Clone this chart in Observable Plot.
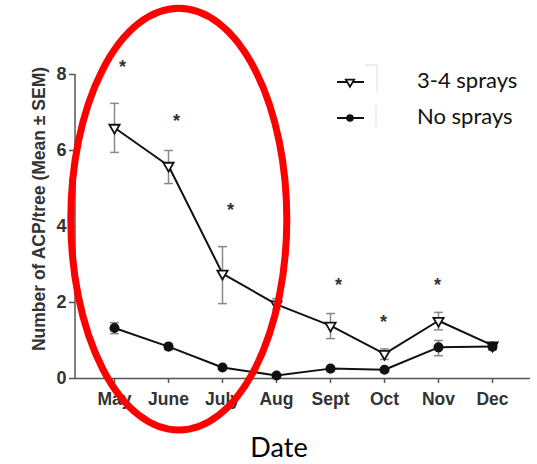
<!DOCTYPE html>
<html><head><meta charset="utf-8">
<script src="https://cdn.jsdelivr.net/npm/d3@7"></script>
<script src="https://cdn.jsdelivr.net/npm/@observablehq/plot@0.6"></script>
<style>body{margin:0;background:#fff;} #chart svg{display:block;}</style>
</head><body><div id="chart"></div>
<script>
const months = ["May","June","July","Aug","Sept","Oct","Nov","Dec"];
const seriesNames = ["3-4 sprays","No sprays"];
const spraysMean = [6.6, 5.6, 2.76, 1.95, 1.39, 0.65, 1.52, 0.87];
const spraysLow  = [5.95, 5.13, 1.97, 1.82, 1.05, 0.5, 1.28, 0.8];
const spraysHigh = [7.24, 6.0, 3.47, 2.1, 1.71, 0.78, 1.74, 0.93];
const noMean = [1.33, 0.84, 0.29, 0.08, 0.26, 0.23, 0.82, 0.84];
const noLow  = [1.18, 0.76, 0.25, 0.05, 0.2, 0.18, 0.6, 0.75];
const noHigh = [1.47, 0.92, 0.33, 0.1, 0.3, 0.28, 1.0, 0.92];
const starMonths = ["May","June","July","Sept","Oct","Nov"];
const starY = [8.33, 6.89, 4.55, 2.58, 1.61, 2.58];
const yTicks = [0, 2, 4, 6, 8];

const sprays = months.map((m,i)=>({month:m, mean:spraysMean[i], lo:spraysLow[i], hi:spraysHigh[i]}));
const none = months.map((m,i)=>({month:m, mean:noMean[i], lo:noLow[i], hi:noHigh[i]}));
const stars = starMonths.map((m,i)=>({month:m, y:starY[i]}));
const capSymbol = {draw(ctx, size){ const w = Math.sqrt(size)/2; ctx.moveTo(-w,0); ctx.lineTo(w,0); }};
const errMarks = (data) => [
  Plot.ruleX(data, {x:"month", y1:"lo", y2:"hi", stroke:"#888", strokeWidth:1.5}),
  Plot.dot(data, {x:"month", y:"lo", symbol:capSymbol, r:5, stroke:"#888", strokeWidth:1.5}),
  Plot.dot(data, {x:"month", y:"hi", symbol:capSymbol, r:5, stroke:"#888", strokeWidth:1.5})
];

const plot = Plot.plot({
  width: 537, height: 464,
  marginLeft: 75, marginRight: 7, marginTop: 74, marginBottom: 86,
  style: {fontFamily: "Liberation Sans, Arial, sans-serif", background: "#fff"},
  x: {type: "point", domain: months, padding: 0.68, axis: null},
  y: {domain: [0, 8], axis: null},
  marks: [
    Plot.axisY({ticks: yTicks, tickSize: 6, tickPadding: 3, fontSize: 18, fontWeight: "bold", fill: "#333", stroke: "#555", strokeWidth: 1.5, label: null}),
    Plot.axisX({tickSize: 5, tickPadding: 9, fontSize: 17.5, fontWeight: "bold", fill: "#333", stroke: "#555", strokeWidth: 1.5, label: null}),
    Plot.ruleY([0], {stroke: "#555", strokeWidth: 1.5}),
    ...errMarks(sprays),
    ...errMarks(none),
    Plot.line(sprays, {x:"month", y:"mean", stroke:"#111", strokeWidth:2}),
    Plot.line(none, {x:"month", y:"mean", stroke:"#111", strokeWidth:2}),
    Plot.dot(sprays, {x:"month", y:"mean", symbol:"triangle", rotate:180, r:3.8, fill:"#fff", stroke:"#111", strokeWidth:1.8}),
    Plot.dot(none, {x:"month", y:"mean", r:4.3, fill:"#111", stroke:"#111"}),
    Plot.text(stars.filter(d=>d.month!=="Oct" && d.month!=="Nov"), {x:"month", y:"y", text:()=>"*", dx:8, dy:5, fontSize:18, fontWeight:"bold", fill:"#333"}),
    Plot.text(stars.filter(d=>d.month==="Oct" || d.month==="Nov"), {x:"month", y:"y", text:()=>"*", dx:-1, dy:5, fontSize:18, fontWeight:"bold", fill:"#333"})
  ]
});
document.getElementById("chart").appendChild(plot);

const svg = d3.select(plot);
const xs = plot.scale("x"), ys = plot.scale("y");
const X = (m)=>xs.apply(m), Y = (v)=>ys.apply(v);
const step = X("June") - X("May");

// y axis line
svg.append("line").attr("x1",75).attr("x2",75).attr("y1",Y(8)).attr("y2",Y(0)).attr("stroke","#555").attr("stroke-width",1.5);

// y label
svg.append("text").attr("transform",`translate(40,209) rotate(-90)`)
  .attr("text-anchor","middle").attr("dominant-baseline","middle")
  .attr("font-family","Liberation Sans, Arial, sans-serif").attr("font-weight","bold").attr("font-size",17.5).attr("fill","#333")
  .text("Number of ACP/tree (Mean ± SEM)");

// x label
svg.append("text").attr("x", 279).attr("y", 450).attr("text-anchor","middle").attr("dominant-baseline","middle")
  .attr("font-family","Lato, sans-serif").attr("font-size",27).attr("fill","#000").text("Date");

// legend
const lg = svg.append("g").attr("font-family","Lato, sans-serif");
[82, 118].forEach((yy,i)=>{
  lg.append("line").attr("x1",337).attr("x2",364).attr("y1",yy).attr("y2",yy).attr("stroke","#111").attr("stroke-width",2);
  if(i===0){
    lg.append("path").attr("d", d3.symbol(d3.symbolTriangle, 30)()).attr("transform",`translate(350,${yy}) rotate(180)`).attr("fill","#fff").attr("stroke","#111").attr("stroke-width",1.8);
  } else {
    lg.append("circle").attr("cx",350).attr("cy",yy).attr("r",3.8).attr("fill","#111");
  }
  lg.append("text").attr("x",417).attr("y",yy).attr("text-anchor","start").attr("dominant-baseline","middle").attr("font-size",22).attr("fill","#111").text(seriesNames[i]);
});
lg.append("line").attr("x1",377).attr("x2",377).attr("y1",65).attr("y2",93).attr("stroke","#ddd");
lg.append("line").attr("x1",365).attr("x2",378).attr("y1",65).attr("y2",65).attr("stroke","#ddd");
lg.append("line").attr("x1",376).attr("x2",376).attr("y1",105).attr("y2",127).attr("stroke","#ddd");

// red annotation ellipse
svg.append("ellipse")
  .attr("cx", X("June") + step*0.2).attr("cy", Y(4.18))
  .attr("rx", step*2).attr("ry", Y(0) - Y(5.55))
  .attr("fill","none").attr("stroke","#f00").attr("stroke-width",7);
</script></body></html>
